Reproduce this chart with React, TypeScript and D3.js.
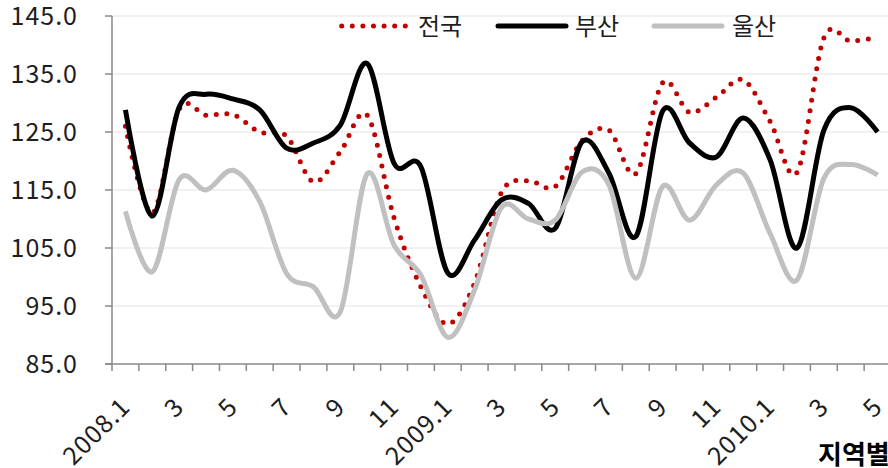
import React from "react";
import * as d3 from "d3";

const categories: string[] = [
  "2008.1", "2", "3", "4", "5", "6", "7", "8", "9", "10", "11", "12",
  "2009.1", "2", "3", "4", "5", "6", "7", "8", "9", "10", "11", "12",
  "2010.1", "2", "3", "4", "5",
];

const nationalValues: number[] = [
  126.0, 111.0, 128.9, 127.9, 128.0, 125.0, 124.3, 116.4, 121.6, 127.9, 110.2, 98.3,
  91.9, 99.0, 114.6, 116.6, 115.6, 123.5, 125.3, 117.8, 133.5, 128.4, 131.0, 134.0,
  126.8, 118.0, 141.2, 140.7, 141.3,
];

const busanValues: number[] = [
  128.8, 110.5, 129.3, 131.5, 130.7, 128.8, 122.2, 123.1, 126.2, 136.8, 119.6, 119.0,
  100.7, 106.4, 113.3, 112.7, 108.4, 123.3, 117.9, 107.0, 128.6, 123.1, 120.7, 127.4,
  120.2, 105.0, 125.3, 129.2, 125.0,
];

const ulsanValues: number[] = [
  111.3, 100.9, 116.8, 115.0, 118.4, 113.0, 100.6, 98.3, 94.0, 117.8, 105.5, 100.3,
  89.6, 97.8, 112.0, 110.0, 109.8, 118.1, 115.9, 99.8, 115.6, 109.8, 115.9, 117.9,
  107.5, 99.5, 117.0, 119.4, 117.6,
];

const yTicks: number[] = [85, 95, 105, 115, 125, 135, 145];

const seriesNames: string[] = ["전국", "부산", "울산"];

const W = 888;
const H = 468;
const FONT = "'Noto Sans CJK KR', 'Noto Sans', sans-serif";

export default function App() {
  const x = d3
    .scaleBand<number>()
    .domain(categories.map((_, i) => i))
    .range([112, 891])
    .paddingInner(0)
    .paddingOuter(0);
  const y = d3.scaleLinear().domain([85, 145]).range([364, 16]);
  const cx = (i: number) => (x(i) as number) + x.bandwidth() / 2;

  const line = d3
    .line<number>()
    .x((_, i) => cx(i))
    .y((d) => y(d))
    .curve(d3.curveCardinal.tension(0));

  const axisColor = "#888888";
  const textColor = "#1e1e1e";

  const boundaries = d3.range(0, categories.length).map((k) => 112 + k * x.step());

  return (
    <svg
      width={W}
      height={H}
      style={{ position: "absolute", left: 0, top: 0, background: "#fff" }}
      fontFamily={FONT}
    >
      <rect x={0} y={0} width={W} height={H} fill="#ffffff" />
      {yTicks
        .filter((t) => t !== 85)
        .map((t) => (
          <line key={"g" + t} x1={112} x2={891} y1={y(t)} y2={y(t)} stroke="#ececec" strokeWidth={1.5} />
        ))}
      <line x1={112} x2={112} y1={y(145)} y2={y(85)} stroke={axisColor} strokeWidth={1.5} />
      {yTicks.map((t) => (
        <g key={"yt" + t}>
          <line x1={105} x2={112} y1={y(t)} y2={y(t)} stroke={axisColor} strokeWidth={1.5} />
          <text
            x={78}
            y={y(t)}
            dy="0.36em"
            textAnchor="end"
            fontSize={25}
            letterSpacing={1}
            fill={textColor}
          >
            {d3.format(".1f")(t)}
          </text>
        </g>
      ))}
      <line x1={105} x2={891} y1={y(85)} y2={y(85)} stroke={axisColor} strokeWidth={1.5} />
      {boundaries.map((bx, k) => (
        <line key={"xt" + k} x1={bx} x2={bx} y1={y(85)} y2={y(85) + 7} stroke={axisColor} strokeWidth={1.5} />
      ))}
      {categories.map((c, i) =>
        i % 2 === 0 ? (
          <text
            key={"xl" + i}
            transform={`translate(${cx(i)},${402}) rotate(-45)`}
            dy="0.36em"
            textAnchor="end"
            fontSize={25}
            letterSpacing={1}
            fill={textColor}
          >
            {c}
          </text>
        ) : null
      )}
      <path
        d={line(nationalValues) || ""}
        fill="none"
        stroke="#c00000"
        strokeWidth={5}
        strokeLinecap="round"
        strokeDasharray="0 10.6"
      />
      <path d={line(busanValues) || ""} fill="none" stroke="#000000" strokeWidth={5} strokeLinejoin="round" />
      <path d={line(ulsanValues) || ""} fill="none" stroke="#c0c0c0" strokeWidth={5} strokeLinejoin="round" />
      <line x1={341.7} x2={405.4} y1={26} y2={26} stroke="#c00000" strokeWidth={5} strokeLinecap="round" strokeDasharray="0 10.6" />
      <text x={418} y={26} dy="0.36em" fontSize={24} fill={textColor}>
        {seriesNames[0]}
      </text>
      <line x1={498} x2={566} y1={26} y2={26} stroke="#000000" strokeWidth={5} strokeLinecap="round" />
      <text x={575} y={26} dy="0.36em" fontSize={24} fill={textColor}>
        {seriesNames[1]}
      </text>
      <line x1={654} x2={722} y1={26} y2={26} stroke="#c0c0c0" strokeWidth={5} strokeLinecap="round" />
      <text x={732} y={26} dy="0.36em" fontSize={24} fill={textColor}>
        {seriesNames[2]}
      </text>
      <text x={818} y={464} fontSize={26} fontWeight="bold" fill="#000000">
        지역별
      </text>
    </svg>
  );
}
